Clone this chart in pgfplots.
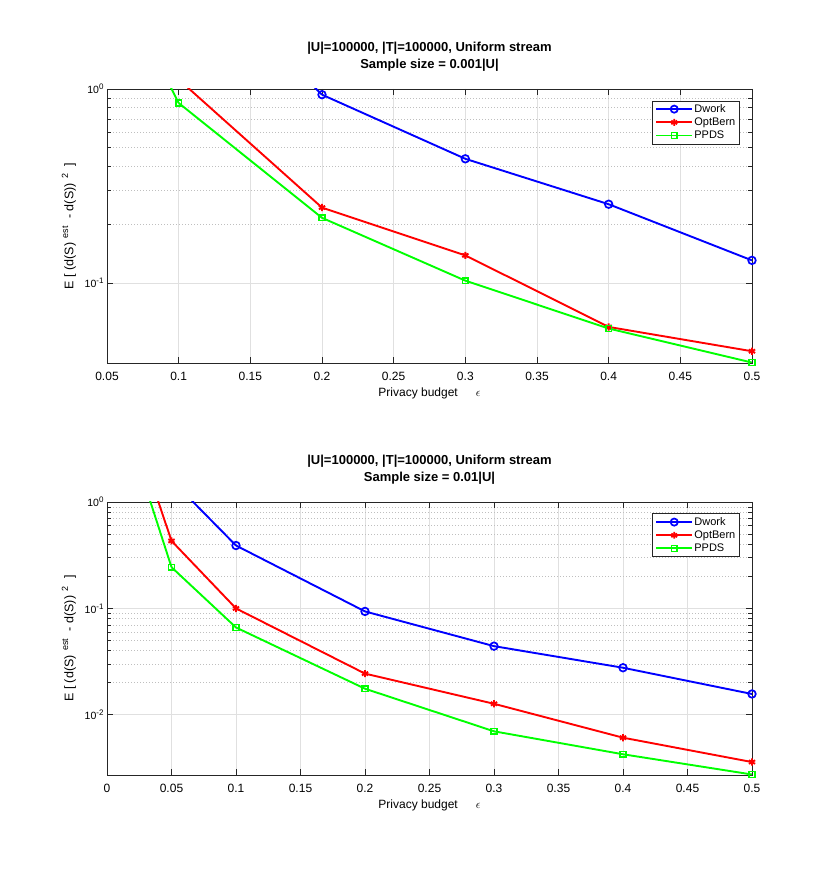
\documentclass[border=0pt]{standalone}
\usepackage{fontspec}
\setmainfont{Liberation Sans}
\usepackage{pgfplots}
\pgfplotsset{compat=1.18}
\definecolor{axgray}{rgb}{0.15,0.15,0.15}
\definecolor{majgrid}{rgb}{0.88,0.88,0.88}
\definecolor{mingrid}{rgb}{0.75,0.75,0.75}
\definecolor{mblue}{rgb}{0,0,1}
\definecolor{mred}{rgb}{1,0,0}
\definecolor{mgreen}{rgb}{0,1,0}
\newcommand\sups[1]{\raisebox{0.75ex}{\fontsize{8}{9}\selectfont #1}}
\newcommand\lsups[1]{\raisebox{0.8ex}{\fontsize{9}{10}\selectfont #1}}
\pgfplotsset{
    scale only axis, width=645pt,
    axis line style={draw=axgray, line width=0.7pt},
    every tick/.style={draw=axgray, line width=0.7pt},
    tick align=inside,
    major tick length=6pt, minor tick length=4pt,
    xmajorgrids, ymajorgrids, yminorgrids,
    major grid style={draw=majgrid, line width=0.7pt},
    minor grid style={draw=mingrid, line width=0.7pt, dash pattern=on 1pt off 2pt},
    xticklabel style={font=\fontsize{12}{14}\selectfont, yshift=-6pt},
    yticklabel style={font=\fontsize{10.5}{12}\selectfont},
    xlabel style={font=\fontsize{12}{14}\selectfont},
    ylabel style={font=\fontsize{12.5}{14}\selectfont, at={(axis description cs:-0.059,0.5)}, anchor=center},
    title style={font=\bfseries\fontsize{13}{17}\selectfont, align=center, yshift=8pt},
    legend style={at={(0.981,0.958)}, anchor=north east, draw=axgray,
      font=\fontsize{11}{13}\selectfont, inner xsep=3pt, inner ysep=2.5pt, nodes={inner sep=1.2pt}, row sep=1.5pt, cells={anchor=west}},
}
\begin{document}
\begin{tikzpicture}
\path (0pt,0pt) rectangle (830pt,871pt);
\begin{axis}[ymode=log, at={(107pt,508pt)}, anchor=south west, height=274pt,
  xmin=0.05, xmax=0.5, ymin=0.0388, ymax=1,
  xtick={0.05,0.1,0.15,0.2,0.25,0.3,0.35,0.4,0.45,0.5},
  xticklabels={0.05,0.1,0.15,0.2,0.25,0.3,0.35,0.4,0.45,0.5},
  ytick={0.1,1}, yticklabels={10\sups{-1},10\sups{0}},
  xlabel={Privacy budget\hspace{18pt}$\epsilon$},
  ylabel={E [ (d(S)\,\lsups{ est\, } - d(S))\,\lsups{ 2\, } ]},
  title={|U|=100000, |T|=100000, Uniform stream\\Sample size = 0.001|U|}]
\addplot[draw=mblue, line width=1.9pt, mark=o, mark size=3.8pt, mark options={solid, line width=1.7pt},
  legend image code/.code={\draw[draw=mblue, line width=1.9pt] (0pt,0pt) -- (36pt,0pt); \draw[draw=mblue, line width=1.7pt, mark=o, mark size=3.6pt] plot coordinates {(18pt,0pt)};}]
  coordinates {(0.2,0.935) (0.3,0.437) (0.4,0.255) (0.5,0.131)};
\addlegendentry{Dwork}
\addplot[draw=mred, line width=1.9pt, mark=asterisk, mark size=3.6pt, mark options={solid, line width=1.9pt},
  legend image code/.code={\draw[draw=mred, line width=1.9pt] (0pt,0pt) -- (36pt,0pt); \draw[draw=mred, line width=1.9pt, mark=asterisk, mark size=3.4pt] plot coordinates {(18pt,0pt)};}]
  coordinates {(0.2,0.245) (0.3,0.139) (0.4,0.0595) (0.5,0.0446)};
\addlegendentry{OptBern}
\addplot[draw=mgreen, line width=1.9pt, mark=square, mark size=2.9pt, mark options={solid, line width=1.5pt},
  legend image code/.code={\draw[draw=mgreen, line width=1.9pt] (0pt,0pt) -- (36pt,0pt); \draw[draw=mgreen, line width=1.5pt, mark=square, mark size=2.9pt] plot coordinates {(18pt,0pt)};}]
  coordinates {(0.1,0.847) (0.2,0.217) (0.3,0.103) (0.4,0.0584) (0.5,0.039)};
\addlegendentry{PPDS}
\addplot[draw=mblue, line width=1.9pt, forget plot] coordinates {(0.1,5.0) (0.2,0.935)};
\addplot[draw=mred, line width=1.9pt, forget plot] coordinates {(0.1,1.12) (0.2,0.245)};
\addplot[draw=mgreen, line width=1.9pt, forget plot] coordinates {(0.05,4.6) (0.1,0.847)};
\end{axis}
\begin{axis}[ymode=log, at={(107pt,96pt)}, anchor=south west, height=273pt,
  xmin=0, xmax=0.5, ymin=0.00272, ymax=1,
  xtick={0,0.05,0.1,0.15,0.2,0.25,0.3,0.35,0.4,0.45,0.5},
  xticklabels={0,0.05,0.1,0.15,0.2,0.25,0.3,0.35,0.4,0.45,0.5},
  ytick={0.01,0.1,1}, yticklabels={10\sups{-2},10\sups{-1},10\sups{0}},
  xlabel={Privacy budget\hspace{18pt}$\epsilon$},
  ylabel={E [ (d(S)\,\lsups{ est\, } - d(S))\,\lsups{ 2\, } ]},
  title={|U|=100000, |T|=100000, Uniform stream\\Sample size = 0.01|U|}]
\addplot[draw=mblue, line width=1.9pt, mark=o, mark size=3.8pt, mark options={solid, line width=1.7pt},
  legend image code/.code={\draw[draw=mblue, line width=1.9pt] (0pt,0pt) -- (36pt,0pt); \draw[draw=mblue, line width=1.7pt, mark=o, mark size=3.6pt] plot coordinates {(18pt,0pt)};}]
  coordinates {(0.1,0.39) (0.2,0.0937) (0.3,0.0442) (0.4,0.0277) (0.5,0.0157)};
\addlegendentry{Dwork}
\addplot[draw=mred, line width=1.9pt, mark=asterisk, mark size=3.6pt, mark options={solid, line width=1.9pt},
  legend image code/.code={\draw[draw=mred, line width=1.9pt] (0pt,0pt) -- (36pt,0pt); \draw[draw=mred, line width=1.9pt, mark=asterisk, mark size=3.4pt] plot coordinates {(18pt,0pt)};}]
  coordinates {(0.05,0.431) (0.1,0.1) (0.2,0.0244) (0.3,0.0127) (0.4,0.0061) (0.5,0.0036)};
\addlegendentry{OptBern}
\addplot[draw=mgreen, line width=1.9pt, mark=square, mark size=2.9pt, mark options={solid, line width=1.5pt},
  legend image code/.code={\draw[draw=mgreen, line width=1.9pt] (0pt,0pt) -- (36pt,0pt); \draw[draw=mgreen, line width=1.5pt, mark=square, mark size=2.9pt] plot coordinates {(18pt,0pt)};}]
  coordinates {(0.05,0.244) (0.1,0.0662) (0.2,0.0176) (0.3,0.0070) (0.4,0.00426) (0.5,0.00275)};
\addlegendentry{PPDS}
\addplot[draw=mblue, line width=1.9pt, forget plot] coordinates {(0.05,1.61) (0.1,0.39)};
\addplot[draw=mred, line width=1.9pt, forget plot] coordinates {(0.01,12) (0.05,0.431)};
\addplot[draw=mgreen, line width=1.9pt, forget plot] coordinates {(0.01,7.8) (0.05,0.244)};
\end{axis}
\pgfresetboundingbox
\useasboundingbox (0pt,0pt) rectangle (830pt,871pt);
\end{tikzpicture}
\end{document}
